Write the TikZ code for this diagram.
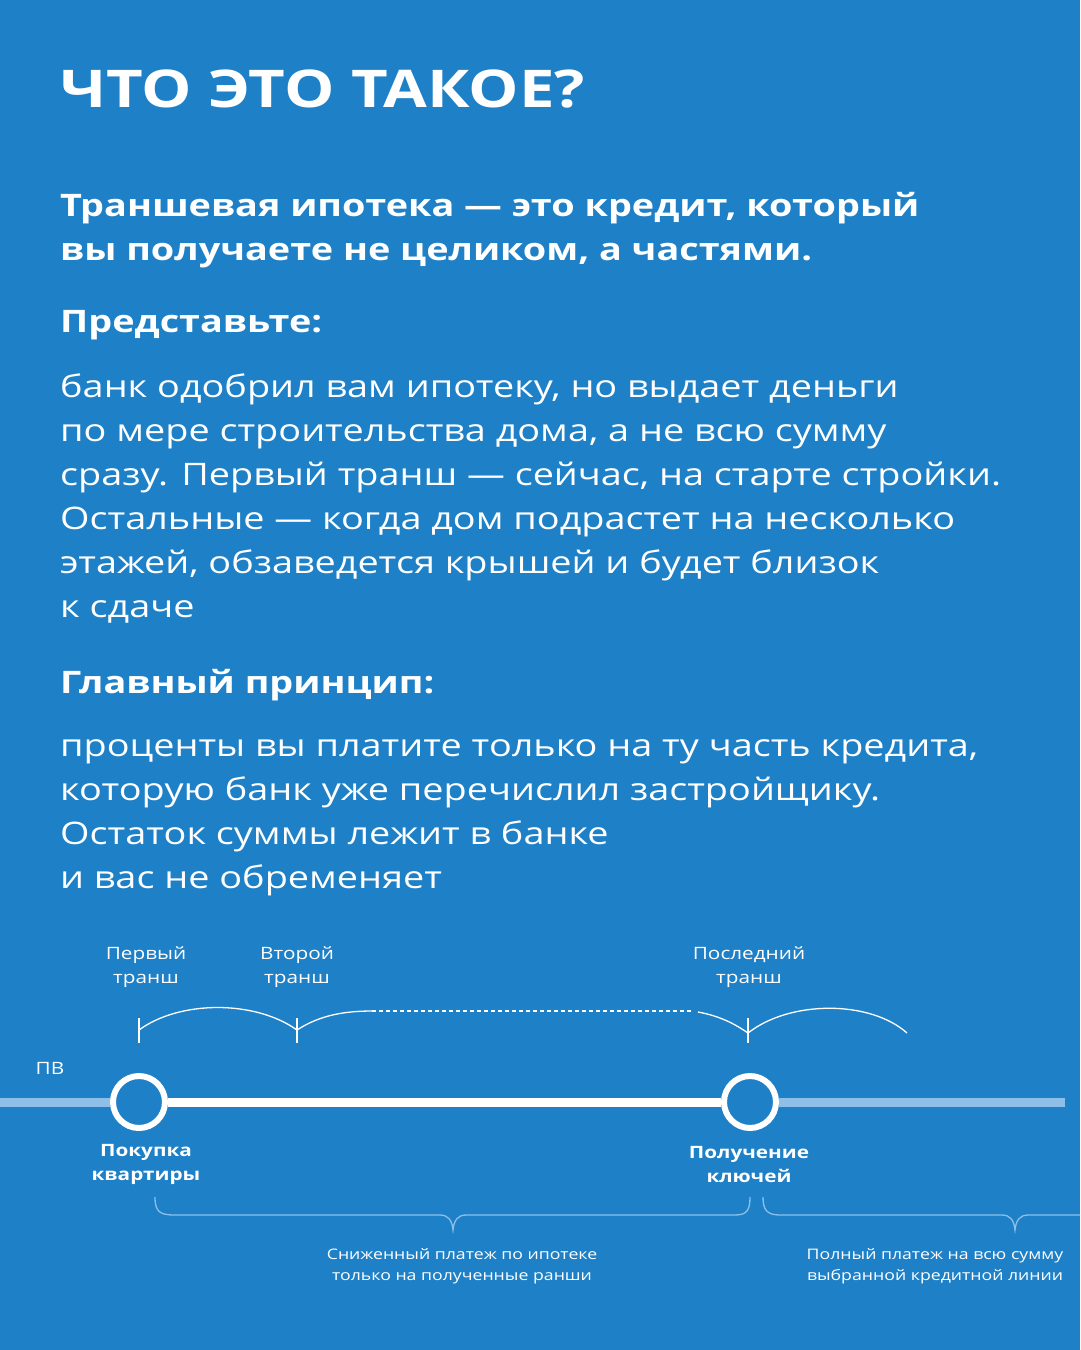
\documentclass[tikz,border=0pt]{standalone}
\usepackage{fontspec}
\setmainfont[FakeStretch=1.22]{Open Sans}
\usetikzlibrary{positioning}
\definecolor{bgblue}{HTML}{1E80C7}
\definecolor{paleline}{HTML}{8EBFE8}
\tikzset{
  body/.style={anchor=north west, text=white, align=left, font=\fontsize{31}{44}\selectfont, inner sep=0pt},
  head/.style={anchor=north west, text=white, align=left, font=\fontsize{31}{44}\selectfont\bfseries, inner sep=0pt},
  small/.style={text=white, align=center, font=\fontsize{17}{24}\selectfont, inner sep=0pt},
  tiny/.style={text=white, align=center, font=\fontsize{14.5}{21}\selectfont, inner sep=0pt},
  stage/.style={text=white, align=center, font=\fontsize{17}{24}\selectfont\bfseries, inner sep=0pt},
  stop/.style={circle, draw=white, line width=6pt, fill=bgblue, minimum size=52pt, inner sep=0pt},
  arcline/.style={white, line width=1.3pt},
  brace/.style={paleline, line width=1.3pt}
}
\begin{document}
\begin{tikzpicture}[x=1pt,y=-1pt]
\fill[bgblue] (0,0) rectangle (1080,1350);
\useasboundingbox (0,0) rectangle (1080,1350);
% texts
\node[anchor=north west, text=white, inner sep=0pt, font=\fontsize{52}{60}\selectfont\bfseries] (title) at (60,70) {ЧТО ЭТО ТАКОЕ?};
\node[head] (lead) at (60,192) {Траншевая ипотека — это кредит, который\\вы получаете не целиком, а частями.};
\node[head] (imag) at (60,310) {Представьте:};
\node[body] (story) at (60,374) {банк одобрил вам ипотеку, но выдает деньги\\по мере строительства дома, а не всю сумму\\сразу. Первый транш — сейчас, на старте стройки.\\Остальные — когда дом подрастет на несколько\\этажей, обзаведется крышей и будет близок\\к сдаче};
\node[head] (rule) at (60,669) {Главный принцип:};
\node[body] (main) at (60,739) {проценты вы платите только на ту часть кредита,\\которую банк уже перечислил застройщику.\\Остаток суммы лежит в банке\\и вас не обременяет};
% timeline
\node[stop] (buy) at (139,1102) {};
\node[stop] (keys) at (750,1102) {};
\coordinate (lstart) at (0,1102);
\coordinate (lend) at (1065,1102);
\draw[paleline, line width=9pt] (lstart) -- (buy.west);
\draw[paleline, line width=9pt] (keys.east) -- (lend);
\draw[white, line width=9pt] (buy.east) -- (keys.west);
\node[small] (pv) at (50,1068) {ПВ};
\node[stage] (buytxt) at (146,1164) {Покупка\\квартиры};
\node[stage] (keytxt) at (749,1164) {Получение\\ключей};
% tranches
\node[small] (t1) at (146,967) {Первый\\транш};
\node[small] (t2) at (297,967) {Второй\\транш};
\node[small] (t3) at (749,967) {Последний\\транш};
\coordinate (k1) at (139,1018); \coordinate (k1b) at (139,1043);
\coordinate (k2) at (297,1018); \coordinate (k2b) at (297,1043);
\coordinate (k3) at (748,1018); \coordinate (k3b) at (748,1043);
\draw[arcline] (k1) -- (k1b);
\draw[arcline] (k2) -- (k2b);
\draw[arcline] (k3) -- (k3b);
\draw[arcline] (139,1030) .. controls (180,1000) and (255,1000) .. (297,1030)
  .. controls (320,1015) and (345,1011) .. (372,1011);
\draw[arcline, dash pattern=on 4pt off 3pt] (372,1011) -- (692,1011);
\draw[arcline] (698,1012) .. controls (720,1016) and (735,1024) .. (748,1033)
  .. controls (790,1000) and (870,1000) .. (907,1033);
% braces
\draw[brace] (155,1197) .. controls (155,1212) and (160,1215) .. (175,1215) -- (440,1215)
  .. controls (448,1215) and (452,1220) .. (453,1230)
  .. controls (454,1220) and (458,1215) .. (466,1215) -- (735,1215)
  .. controls (747,1215) and (750,1210) .. (750,1197);
\draw[brace] (763,1197) .. controls (763,1210) and (767,1215) .. (780,1215) -- (1002,1215)
  .. controls (1010,1215) and (1014,1220) .. (1015,1230)
  .. controls (1016,1220) and (1020,1215) .. (1028,1215) -- (1080,1215);
\node[tiny] (low) at (462,1266) {Сниженный платеж по ипотеке\\только на полученные ранши};
\node[tiny] (full) at (935,1266) {Полный платеж на всю сумму\\выбранной кредитной линии};
\end{tikzpicture}
\end{document}
